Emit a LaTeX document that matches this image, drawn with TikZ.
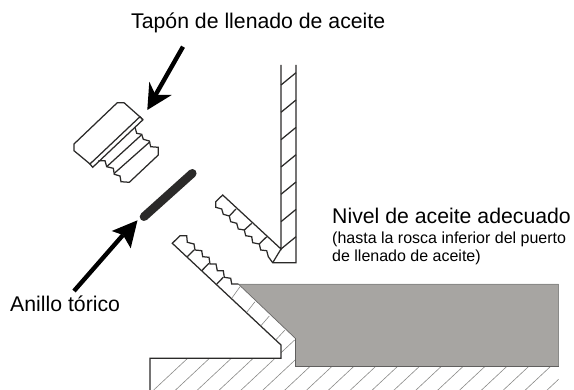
\documentclass[tikz,border=0pt]{standalone}
\usepackage{fontspec}
\setmainfont{Liberation Sans}
\definecolor{ink}{HTML}{2B2A29}
\definecolor{oil}{HTML}{A7A5A2}
\definecolor{hatchc}{HTML}{8A8A88}
\tikzset{
  part/.style={draw=ink,line width=1.25pt,line join=miter,fill=white},
  partline/.style={draw=ink,line width=1.25pt},
  thinhatch/.style={draw=hatchc,line width=0.6pt},
  pointer/.style={draw=black,line width=4.4pt},
  pointerhead/.style={fill=black,draw=none},
  big/.style={inner sep=0pt,anchor=base west,font=\fontsize{21.25}{24}\selectfont},
  small/.style={inner sep=0pt,anchor=base west,font=\fontsize{16}{18}\selectfont},
}
\begin{document}
\begin{tikzpicture}[x=1pt,y=-1pt]
\useasboundingbox (0,0) rectangle (574,390);
% ground hatching
\begin{scope}
\clip (150,358.3) -- (281,358.3) -- (281,345) -- (295.3,338.3) -- (295.3,366.7) -- (558.7,366.7) -- (558.7,390) -- (150,390) -- cycle;
\foreach \k in {0,...,18}{
  \pgfmathsetmacro{\c}{571+21.86*\k}
  \draw[thinhatch] ({\c-1.07*340},340) -- ({\c-1.07*395},395);
}
\end{scope}
% oil
\fill[oil] (238.3,284) -- (558.7,284) -- (558.7,366.7) -- (295.3,366.7) -- (295.3,338.3) -- cycle;
\draw[draw=hatchc,line width=0.7pt] (238.3,284) -- (558.7,284) -- (558.7,366.7);
\draw[draw=ink!75,line width=1pt] (558.7,366.7) -- (295.3,366.7) -- (295.3,338.3);
\draw[draw=ink!70,line width=0.7pt] (295.3,338.3) -- (238.3,284);
% lower port
\draw[partline,line join=miter] (150,390) -- (150,358.3) -- (281,358.3) -- (281,345) -- (172.3,243.3) -- (180,235.7) -- (186.7,235.7) -- (187.3,242.3) -- (194,244) -- (195,250) -- (201.7,250.7) -- (202.7,256.7) -- (209,257.3) -- (210,264) -- (216,264) -- (217.3,270.7) -- (223.3,270.7) -- (224.3,277.3) -- (230.7,278.3) -- (231.7,284) -- (238.3,284);
\draw[partline] (194,250) -- (187.3,256.7);
\draw[partline] (209,263.3) -- (201.7,270.7);
\draw[partline] (223.3,277.3) -- (216.7,284);
\draw[thinhatch] (240,286.7) -- (231.7,298.3);
\draw[thinhatch] (255,301.7) -- (246.7,312.3);
\draw[thinhatch] (269.3,316) -- (260.7,326);
\draw[thinhatch] (285,330) -- (275.7,340);
% wall
\draw[partline] (281,65) -- (281,249) -- (222.7,195) -- (215.7,201.7) -- (215.7,207.3) -- (221.7,209) -- (223.3,214.3) -- (229.3,216) -- (230.7,221.7) -- (236.7,223.3) -- (238.3,229) -- (244.3,230) -- (245.7,235.7) -- (251.7,236.7) -- (252.7,242.7) -- (259.3,244) -- (260.7,250) -- (266.7,250.7) -- (268.3,256.7) -- (272.7,262.7) -- (296,262.7) -- (296,65);
\foreach \y in {85,112.3,139.7,167,194.3,221.7}{
  \draw[partline] (281,\y) -- (296,{\y-12.3});
}
\draw[partline] (272.7,262.7) -- (281,249) -- (296,236.7);
\draw[partline] (236,209) -- (229.3,216);
\draw[partline] (251.7,223.3) -- (244.3,230);
\draw[partline] (266.7,236.7) -- (259.3,244);
% plug
\draw[part] (142.7,119.3) -- (124,102.7) -- (117.3,102.7) -- (74,144) -- (74,150.7) -- (90,164) -- cycle;
\draw[part] (140,116.7) -- (142.7,120) -- (92.7,167.3) -- (90,164) -- cycle;
\draw[partline] (135,127.3) -- (136.7,133.3) -- (141.7,134.3) -- (143.3,139.3) -- (149.3,141) -- (150.7,146.7) -- (158.3,147.3) -- (158.3,155) -- (129.3,182.3) -- (121,181.7) -- (120,176) -- (114.3,174.3) -- (113.3,168.3) -- (106.7,166.7) -- (105,160.7) -- (98.3,160.7);
\draw[partline] (141.7,134.7) -- (106.7,166.7);
\draw[partline] (150,141.7) -- (114.3,173.3);
% O-ring
\draw[ink,line width=8.6pt,line cap=round] (144,216.7) -- (192.3,173.3);
% pointer arrows
\coordinate (plugtail) at (183,46.7);
\coordinate (plugtip) at (147.3,110);
\coordinate (plugbarbA) at (149.3,81.7);
\coordinate (plugbarbB) at (171.7,95);
\coordinate (plugnotch) at (155.5,95);
\draw[pointer] (plugtail) -- (plugnotch);
\fill[pointerhead] (plugtip) -- (plugbarbA) -- (plugnotch) -- (plugbarbB) -- cycle;
\coordinate (ringtail) at (74,291);
\coordinate (ringtip) at (137.5,220.3);
\coordinate (ringbarbA) at (111.7,231);
\coordinate (ringbarbB) at (130.7,248.3);
\coordinate (ringnotch) at (123,235);
\draw[pointer] (ringtail) -- (ringnotch);
\fill[pointerhead] (ringtip) -- (ringbarbA) -- (ringnotch) -- (ringbarbB) -- cycle;
% labels
\node[big] (cap) at (131,28.5) {Tapón de llenado de aceite};
\node[big] (ring) at (10,312) {Anillo tórico};
\node[big] (level) at (332,223.5) {Nivel de aceite adecuado};
\node[small] (levelA) at (332,244) {(hasta la rosca inferior del puerto};
\node[small] (levelB) at (332,262) {de llenado de aceite)};
\end{tikzpicture}
\end{document}
